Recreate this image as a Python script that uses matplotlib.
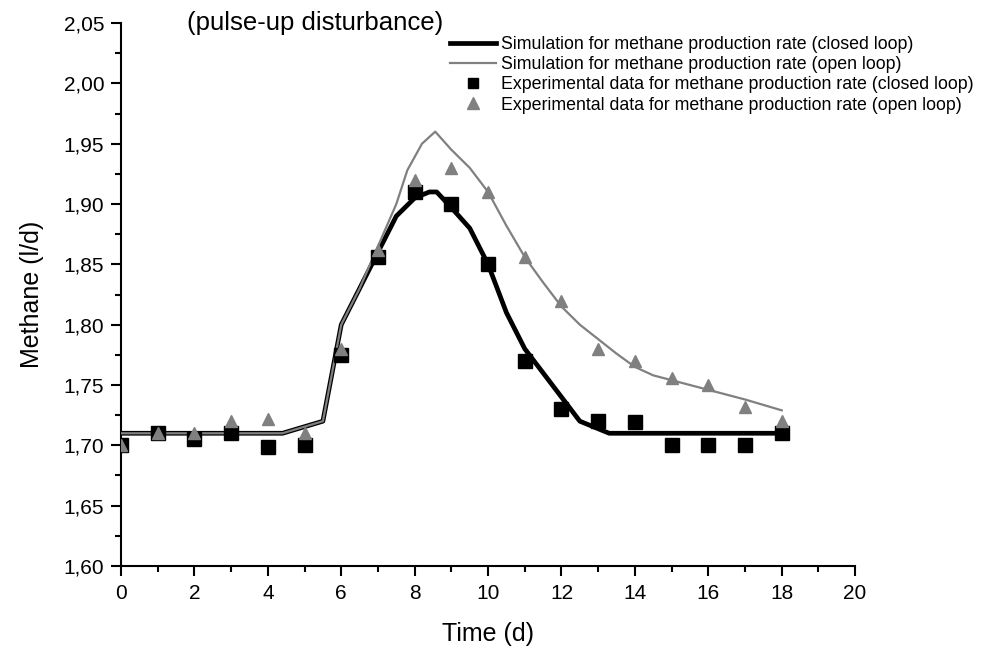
import matplotlib
matplotlib.use("Agg")
import matplotlib.pyplot as plt
from matplotlib.ticker import MultipleLocator, FuncFormatter

plt.rcParams['font.family'] = ['Liberation Sans', 'DejaVu Sans']

# simulated curves
t_sim_closed = [0, 4.4, 5.5, 6, 6.5, 7, 7.5, 8, 8.4, 8.6, 9, 9.5, 10, 10.5,
                11, 11.5, 12, 12.5, 13.3, 18]
sim_closed = [1.71, 1.71, 1.72, 1.80, 1.83, 1.86, 1.89, 1.905, 1.91, 1.91,
              1.897, 1.88, 1.85, 1.81, 1.78, 1.76, 1.74, 1.72, 1.71, 1.71]

t_sim_open = [0, 4.4, 5.5, 6, 6.5, 7, 7.5, 7.8, 8.2, 8.56, 9, 9.5, 10, 10.5,
              11, 11.5, 12, 12.5, 13, 13.5, 14, 14.5, 15, 16, 17, 18]
sim_open = [1.71, 1.71, 1.72, 1.80, 1.83, 1.865, 1.90, 1.928, 1.95, 1.96,
            1.945, 1.93, 1.91, 1.882, 1.856, 1.835, 1.815, 1.80, 1.788,
            1.776, 1.765, 1.758, 1.754, 1.746, 1.738, 1.729]

# experimental points
t_exp = list(range(0, 19))
exp_closed = [1.70, 1.71, 1.705, 1.71, 1.699, 1.70, 1.775, 1.856, 1.91, 1.90,
              1.85, 1.77, 1.73, 1.72, 1.719, 1.70, 1.70, 1.70, 1.71]
exp_open = [1.70, 1.71, 1.71, 1.72, 1.722, 1.71, 1.78, 1.862, 1.92, 1.93,
            1.91, 1.856, 1.82, 1.78, 1.77, 1.756, 1.75, 1.732, 1.72]

fig = plt.figure(figsize=(9.84, 6.51), dpi=100)
ax = fig.add_axes([0.123, 0.1306, 0.746, 0.834])

ax.plot(t_sim_closed, sim_closed, color='black', lw=3.4,
        label='Simulation for methane production rate (closed loop)', zorder=2)
ax.plot(t_sim_open, sim_open, color='#808080', lw=1.6,
        label='Simulation for methane production rate (open loop)', zorder=3)
ax.plot(t_exp, exp_closed, 's', color='black', ms=10.5, ls='none',
        label='Experimental data for methane production rate (closed loop)', zorder=4)
ax.plot(t_exp, exp_open, '^', color='#808080', ms=9, ls='none',
        label='Experimental data for methane production rate (open loop)', zorder=5)

ax.set_xlim(0, 20)
ax.set_ylim(1.60, 2.05)
ax.xaxis.set_major_locator(MultipleLocator(2))
ax.xaxis.set_minor_locator(MultipleLocator(1))
ax.yaxis.set_major_locator(MultipleLocator(0.05))
ax.yaxis.set_minor_locator(MultipleLocator(0.025))
ax.yaxis.set_major_formatter(FuncFormatter(lambda v, _: f"{v:.2f}".replace('.', ',')))

for side in ['top', 'right']:
    ax.spines[side].set_visible(False)
for side in ['left', 'bottom']:
    ax.spines[side].set_linewidth(1.5)
ax.tick_params(which='major', length=7, width=1.5, labelsize=15, direction='out')
ax.tick_params(axis='x', which='major', pad=6)
ax.tick_params(axis='y', which='major', pad=5)
ax.tick_params(which='minor', length=4, width=1.5, direction='out')

ax.set_xlabel('Time (d)', fontsize=18, labelpad=14)
ax.set_ylabel('Methane (l/d)', fontsize=18, labelpad=14)

ax.text(0.09, 1.0, '(pulse-up disturbance)', transform=ax.transAxes,
        fontsize=18.5, va='center', ha='left')

leg = ax.legend(loc='upper left', bbox_to_anchor=(450 / 984, 1 - 36 / 651),
                bbox_transform=fig.transFigure, frameon=False, fontsize=12.8,
                handlelength=2.6, handletextpad=0.25, labelspacing=0.18,
                borderpad=0, borderaxespad=0)
leg.legend_handles[2].set_markersize(7.5)
leg.legend_handles[3].set_markersize(8)

fig.savefig('out.png', dpi=100)
